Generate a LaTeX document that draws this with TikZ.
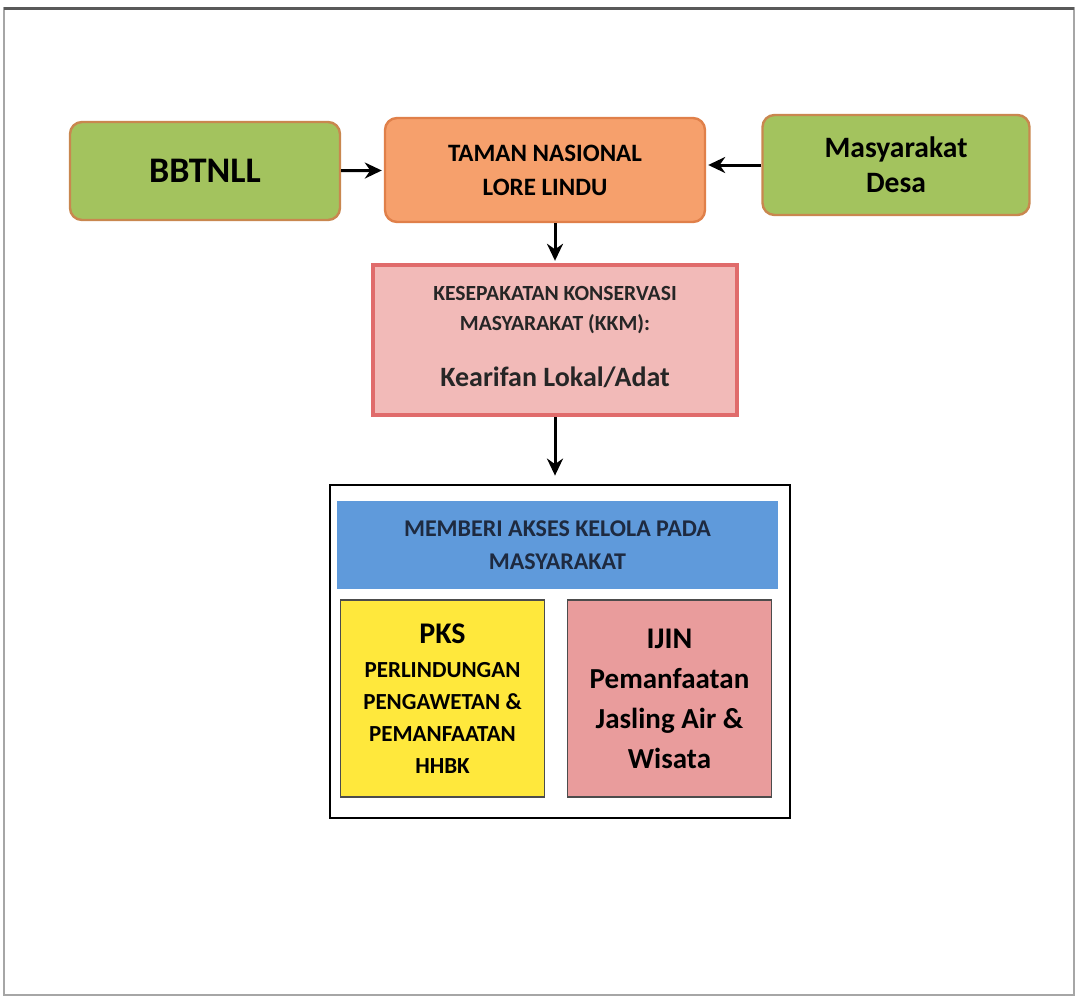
\documentclass[tikz,border=0pt]{standalone}
\usepackage{fontspec}
\setmainfont{Carlito}
\usepackage{xcolor}
\usetikzlibrary{arrows.meta}
\usetikzlibrary{positioning}

\definecolor{boxgreen}{HTML}{A3C35E}
\definecolor{edgebrown}{HTML}{C9874F}
\definecolor{boxorange}{HTML}{F6A06C}
\definecolor{edgeorange}{HTML}{E0804A}
\definecolor{boxrose}{HTML}{F2BAB8}
\definecolor{edgerose}{HTML}{E06B6B}
\definecolor{boxblue}{HTML}{5F9ADB}
\definecolor{boxyellow}{HTML}{FFE83C}
\definecolor{boxpink}{HTML}{E99C9C}
\definecolor{textnavy}{HTML}{1E2A40}

\begin{document}
\begin{tikzpicture}
[
x=0.5pt, y=-0.5pt,
every node/.style={
	align=center,
	inner sep=2pt,
	font=\bfseries},
topBox/.style={
	rectangle,
	rounded corners=6pt,
	line width=1.2pt},
greenBox/.style={
	topBox,
	fill=boxgreen,
	draw=edgebrown},
innerBox/.style={
	rectangle,
	draw=black!70,
	line width=0.8pt,
	minimum width=102pt,
	minimum height=98.5pt},
regArr/.style={
	-{Stealth[length=8.5pt,width=8pt]},
	line width=1.5pt,
	shorten >=1pt}
]
\useasboundingbox (0,0) rectangle (1078,1001);

%page frame
\draw [black!35, line width=0.8pt] (4,8) rectangle (1074,995);
\draw [black!65, line width=1.5pt] (4,8) -- (1074,8);

%top row
\node [greenBox, minimum width=135pt, minimum height=49pt, font=\bfseries\fontsize{18}{20}\selectfont] (bbtnll) at (205,171) {BBTNLL};
\node [topBox, fill=boxorange, draw=edgeorange, minimum width=160pt, minimum height=52pt, font=\bfseries\fontsize{12.5}{17}\selectfont] (tnll) at (545,170) {TAMAN NASIONAL\\LORE LINDU};
\node [greenBox, minimum width=133.5pt, minimum height=50pt, font=\bfseries\fontsize{14.8}{17.5}\selectfont] (desa) at (896,165) {Masyarakat\\Desa};

%kesepakatan
\node [rectangle, fill=boxrose, draw=edgerose, line width=2.2pt, minimum width=182pt, minimum height=75pt] (kkm) at (555,340) {};
\node [font=\bfseries\fontsize{10.8}{15}\selectfont, text=black!85] (kkmhead) at (555,310) {KESEPAKATAN KONSERVASI\\MASYARAKAT (KKM):};
\node [font=\bfseries\fontsize{14}{16}\selectfont, text=black!85] (kkmtext) at (555,377) {Kearifan Lokal/Adat};

%akses group
\node [rectangle, draw=black, line width=1.4pt, minimum width=230pt, minimum height=166.5pt] (group) at (560,651.5) {};
\node [rectangle, fill=boxblue, minimum width=220.5pt, minimum height=44pt, text=textnavy, font=\bfseries\fontsize{12}{16.5}\selectfont] (akses) at (557.5,545) {MEMBERI AKSES KELOLA PADA\\MASYARAKAT};
\node [innerBox, fill=boxyellow, font=\bfseries\fontsize{11.5}{16}\selectfont] (pks) at (442.5,698.5) {{\fontsize{15}{18}\selectfont PKS}\\[1pt]PERLINDUNGAN\\PENGAWETAN \&\\PEMANFAATAN\\HHBK};
\node [innerBox, fill=boxpink, font=\bfseries\fontsize{14.5}{20}\selectfont] (ijin) at (669.5,698.5) {{\fontsize{15}{18}\selectfont IJIN}\\Pemanfaatan\\Jasling Air \&\\Wisata};

%connectors
\draw [regArr] (bbtnll) -- (tnll);
\draw [regArr] (desa.west) -- (desa.west -| tnll.east);
\draw [regArr] (tnll.south -| kkm.north) -- (kkm.north);
\draw [regArr] (kkm.south) -- ([yshift=3pt]group.north -| kkm.south);

\end{tikzpicture}
\end{document}
